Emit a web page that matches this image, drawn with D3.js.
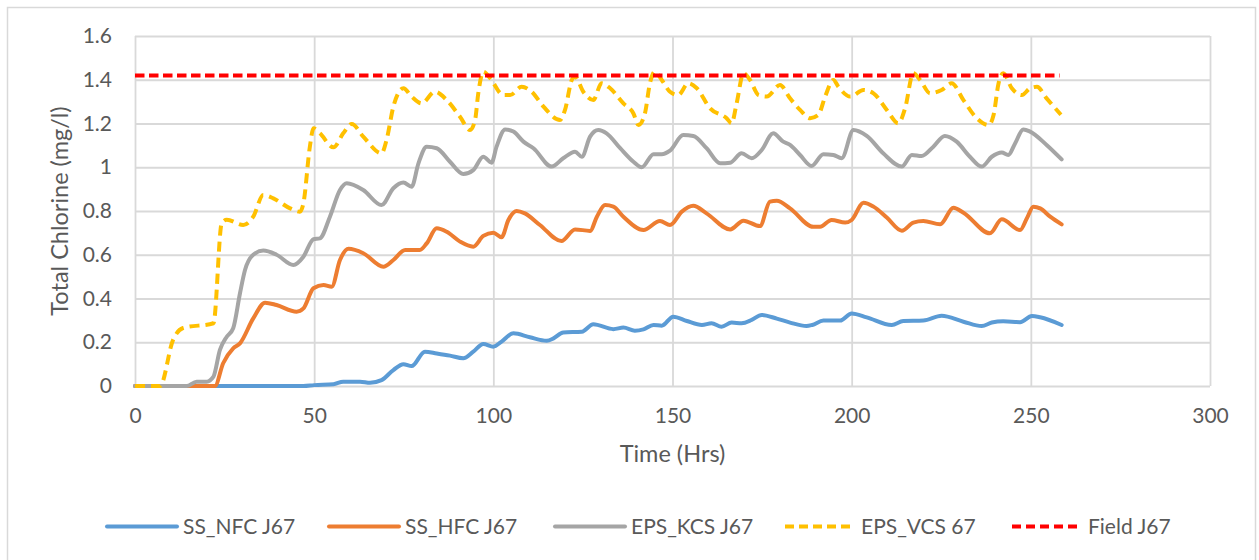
<!DOCTYPE html>
<html>
<head>
<meta charset="utf-8">
<script src="https://cdn.jsdelivr.net/npm/d3@7"></script>
<style>
  html, body { margin: 0; padding: 0; background: #fff; }
  svg text { font-family: Lato, "Open Sans", sans-serif; fill: #595959; }
</style>
</head>
<body>
<svg id="chart" width="1259" height="560"></svg>
<script>
// Total chlorine at junction J67, hours vs mg/l
const xTicks = [0, 50, 100, 150, 200, 250, 300];
const yTicks = [0, 0.2, 0.4, 0.6, 0.8, 1, 1.2, 1.4, 1.6];

const seriesNames = ["SS_NFC J67", "SS_HFC J67", "EPS_KCS J67", "EPS_VCS 67", "Field J67"];

const ssNfc = [[0,0],[47,0],[50,0.004],[55.4,0.008],[58.1,0.02],[62.8,0.02],[65.6,0.015],[68.8,0.027],[72.1,0.073],[74.9,0.1],[77.2,0.091],[80.9,0.157],[84.2,0.149],[87.9,0.139],[91.6,0.127],[94.4,0.157],[97.2,0.192],[100,0.18],[102.3,0.203],[105.6,0.241],[110.2,0.223],[114.9,0.207],[116.8,0.218],[119.5,0.245],[124.7,0.248],[127.9,0.282],[133.5,0.26],[136.3,0.267],[139.5,0.253],[141.9,0.259],[144.7,0.279],[147,0.276],[150.2,0.317],[154,0.297],[158.2,0.279],[160.9,0.287],[163.7,0.271],[166.5,0.29],[169.3,0.287],[172.1,0.302],[174.9,0.325],[179.1,0.308],[182.8,0.29],[187.4,0.274],[189,0.279],[192.1,0.299],[196.8,0.299],[200,0.332],[204.2,0.314],[211.2,0.279],[214.4,0.297],[220,0.299],[225.1,0.321],[231.2,0.294],[236.3,0.274],[239.1,0.29],[242.3,0.296],[247,0.292],[250.3,0.32],[252.6,0.314],[258.6,0.279]];

const ssHfc = [[0,0],[22.3,0],[24.6,0.104],[27.4,0.172],[29.3,0.195],[33,0.309],[36.3,0.381],[39.5,0.37],[45.1,0.34],[47,0.355],[49.8,0.447],[52.6,0.462],[54.9,0.454],[57.2,0.576],[59.6,0.627],[63.7,0.607],[69.3,0.545],[72.1,0.576],[75.4,0.622],[79.5,0.622],[81.4,0.652],[84.2,0.721],[87,0.705],[90.7,0.66],[94.4,0.637],[97.2,0.686],[100,0.701],[102.3,0.68],[104.2,0.759],[106.5,0.8],[108.8,0.789],[113,0.736],[119,0.663],[122.8,0.716],[127,0.709],[128.9,0.774],[131.2,0.827],[133.5,0.82],[136.3,0.774],[141.9,0.713],[146.5,0.754],[149.3,0.736],[152.6,0.797],[155.8,0.824],[159.5,0.789],[166.1,0.716],[169.8,0.756],[174.4,0.731],[177.2,0.843],[179.1,0.847],[182.8,0.812],[189.3,0.728],[191.2,0.728],[194.4,0.759],[198.2,0.747],[200,0.759],[203.3,0.838],[206.1,0.82],[209.8,0.77],[214,0.71],[217.2,0.747],[220,0.754],[224.7,0.739],[228.4,0.815],[231.2,0.792],[238.6,0.698],[241.9,0.762],[247,0.713],[248.9,0.767],[250.7,0.82],[252.6,0.812],[255.4,0.774],[258.6,0.739]];

const epsKcs = [[0,0],[14.4,0],[17.2,0.02],[20,0.02],[21.9,0.043],[23.7,0.165],[25.6,0.225],[27.4,0.264],[29.3,0.424],[30.7,0.53],[33,0.6],[35.8,0.619],[39.5,0.6],[44.2,0.553],[47,0.591],[49.8,0.671],[51.6,0.675],[54.4,0.774],[57.2,0.896],[59.1,0.927],[63.7,0.896],[68.8,0.827],[72.1,0.904],[74.9,0.93],[77.2,0.911],[79.1,1.018],[81.4,1.094],[84.2,1.087],[87.9,1.025],[91.6,0.969],[94.4,0.987],[97.2,1.048],[99.5,1.021],[100.9,1.094],[103.3,1.173],[105.6,1.163],[108.4,1.117],[111.2,1.087],[116.3,1.003],[119.5,1.041],[122.8,1.071],[124.7,1.048],[127,1.14],[129.3,1.17],[131.6,1.155],[135.4,1.087],[139.1,1.025],[141.4,1.0],[144.7,1.06],[147,1.06],[149.3,1.076],[153,1.147],[155.8,1.143],[159.5,1.087],[163.3,1.018],[166.1,1.021],[169.3,1.064],[172.1,1.041],[174.9,1.079],[178.1,1.155],[180.9,1.117],[182.8,1.102],[185.6,1.056],[188.8,1.006],[192.1,1.06],[194.9,1.056],[197.2,1.041],[200.5,1.17],[204.2,1.143],[208.8,1.064],[214,1.003],[216.8,1.056],[219.5,1.051],[222.8,1.094],[226,1.143],[229.3,1.117],[233,1.048],[236.3,1.003],[239.1,1.048],[241.9,1.067],[243.7,1.056],[245.6,1.109],[247.9,1.173],[249.8,1.163],[254.4,1.102],[258.6,1.036]];

const epsVcs = [[0,0],[7,0],[10.6,0.21],[13.4,0.265],[21.9,0.287],[24.2,0.744],[25.6,0.76],[30.2,0.736],[33,0.774],[35.8,0.873],[38.6,0.858],[43.3,0.812],[46,0.797],[47,0.835],[48.8,1.094],[49.8,1.178],[51.6,1.155],[55.4,1.091],[58.1,1.155],[60.5,1.198],[63.7,1.14],[68.8,1.064],[70.2,1.125],[72.1,1.277],[74.9,1.361],[77.2,1.323],[80,1.292],[83.7,1.345],[87,1.307],[90.7,1.231],[93.5,1.17],[94.9,1.216],[95.8,1.338],[97.2,1.437],[99.1,1.407],[102.8,1.33],[104.7,1.33],[107.9,1.368],[110.7,1.345],[114,1.277],[118.6,1.216],[120,1.262],[121.9,1.399],[122.8,1.414],[125.1,1.345],[127.9,1.307],[130.2,1.384],[132.6,1.361],[136.3,1.292],[139.1,1.246],[140.5,1.193],[142.3,1.246],[143.7,1.384],[145.1,1.437],[147,1.399],[149.3,1.345],[151.6,1.33],[154.4,1.384],[156.8,1.361],[160.5,1.269],[165.1,1.224],[166.5,1.201],[167.9,1.292],[169.8,1.43],[171.6,1.4],[174,1.33],[176.3,1.323],[180,1.376],[182.8,1.315],[185.6,1.262],[188.4,1.224],[190.7,1.239],[192.6,1.323],[194.9,1.399],[196.3,1.368],[199.6,1.323],[203.3,1.353],[206.1,1.338],[209.8,1.262],[213,1.201],[214.9,1.269],[217.2,1.43],[219.1,1.399],[221.9,1.338],[225.1,1.353],[227.9,1.384],[231.2,1.307],[234.9,1.224],[238.2,1.193],[239.6,1.239],[241,1.384],[242.3,1.43],[244.7,1.361],[247.5,1.33],[249.8,1.361],[251.7,1.368],[254.4,1.315],[258.4,1.24]];

const fieldJ67 = [[0,1.42],[258,1.42]];

const seriesData = [ssNfc, ssHfc, epsKcs, epsVcs, fieldJ67];
const colors = ["#5B9BD5", "#ED7D31", "#A5A5A5", "#FFC000", "#FF0000"];
const dashes = [null, null, null, "10,6", "9.5,4.5"];

const svg = d3.select("#chart");
const plot = { left: 135, right: 1210, top: 36, bottom: 386 };

// outer chart frame
svg.append("rect")
  .attr("x", 7.5).attr("y", 7.5)
  .attr("width", 1248).attr("height", 600)
  .attr("fill", "none").attr("stroke", "#d9d9d9").attr("stroke-width", 1.5);

const x = d3.scaleLinear().domain([0, 300]).range([plot.left, plot.right]);
const y = d3.scaleLinear().domain([0, 1.6]).range([plot.bottom, plot.top]);

// gridlines
const xAxis = d3.axisBottom(x).tickValues(xTicks).tickSize(-(plot.bottom - plot.top)).tickFormat(d3.format("d")).tickPadding(18);
const yAxis = d3.axisLeft(y).tickValues(yTicks).tickSize(-(plot.right - plot.left)).tickFormat(d => d3.format("~g")(d)).tickPadding(23);

const gx = svg.append("g").attr("transform", `translate(0,${plot.bottom})`).call(xAxis);
const gy = svg.append("g").attr("transform", `translate(${plot.left},0)`).call(yAxis);

[gx, gy].forEach(g => {
  g.select(".domain").remove();
  g.selectAll(".tick line").attr("stroke", "#d9d9d9").attr("stroke-width", 1.8);
  g.selectAll(".tick text").style("font-size", "21px").attr("fill", "#595959");
});
gx.selectAll(".tick text").attr("dy", "0.9em");

// series
const line = d3.line()
  .x(d => x(d[0]))
  .y(d => y(d[1]))
  .curve(d3.curveMonotoneX);

seriesData.forEach((data, i) => {
  svg.append("path")
    .datum(data)
    .attr("d", line)
    .attr("fill", "none")
    .attr("stroke", colors[i])
    .attr("stroke-width", 4)
    .attr("stroke-linejoin", "round")
    .attr("stroke-linecap", dashes[i] ? "butt" : "round")
    .attr("stroke-dasharray", dashes[i]);
});

// axis titles
svg.append("text")
  .attr("x", (plot.left + plot.right) / 2).attr("y", 462)
  .attr("text-anchor", "middle")
  .style("font-size", "23.5px")
  .text("Time (Hrs)");

svg.append("text")
  .attr("transform", `translate(68,${(plot.top + plot.bottom) / 2}) rotate(-90)`)
  .attr("text-anchor", "middle")
  .style("font-size", "23.5px")
  .text("Total Chlorine (mg/l)");

// legend
const legendX = [107, 329, 555, 785, 1012];
const legendY = 526.5;
const legend = svg.append("g");
seriesNames.forEach((name, i) => {
  const g = legend.append("g").attr("transform", `translate(${legendX[i]},${legendY})`);
  g.append("line")
    .attr("x1", 0).attr("x2", 70).attr("y1", 0).attr("y2", 0)
    .attr("stroke", colors[i]).attr("stroke-width", 4)
    .attr("stroke-linecap", dashes[i] ? "butt" : "round")
    .attr("stroke-dasharray", dashes[i] ? "9,5" : null);
  g.append("text")
    .attr("x", 76).attr("y", 0).attr("dy", "0.35em")
    .style("font-size", "21px")
    .text(name);
});
</script>
</body>
</html>
